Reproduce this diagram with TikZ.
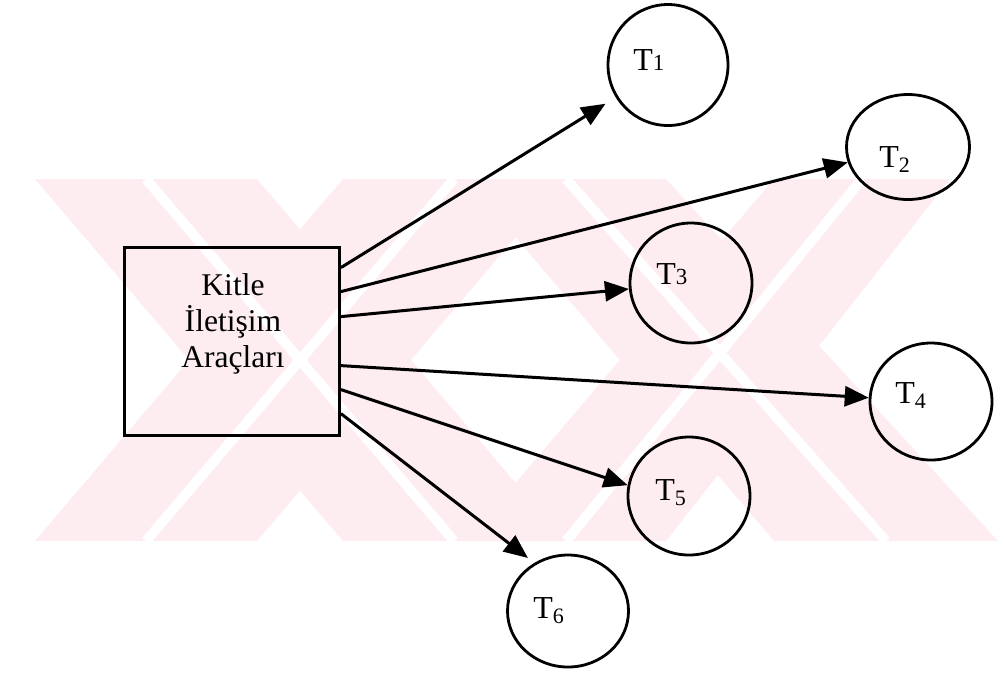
\documentclass[tikz,border=0pt]{standalone}
\usepackage{fontspec}
\setmainfont{Liberation Serif}
\usetikzlibrary{arrows.meta,shapes.geometric,calc}
\definecolor{wmpink}{RGB}{253,236,240}
% digit set on the baseline, and digit set slightly lowered
\newcommand{\tnum}[1]{{\fontsize{11.5}{11.5}\selectfont #1}}
\newcommand{\tsub}[1]{\raisebox{-0.35ex}{\fontsize{11}{11}\selectfont #1}}
\begin{document}
\begin{tikzpicture}[x=0.5pt,y=-0.5pt,
  target/.style={draw, ellipse, line width=1.4pt, inner sep=0pt},
  mediabox/.style={draw, rectangle, line width=1.4pt, inner sep=0pt,
    minimum width=107.5pt, minimum height=94pt},
  link/.style={line width=1.5pt, -{Triangle[length=12pt,width=10pt]}},
  tlabel/.style={anchor=base west, inner sep=0pt, font=\fontsize{16}{16}\selectfont},
  band/.style={fill=wmpink},
  gap/.style={draw=white, line width=5pt},
]
\useasboundingbox (0,0) rectangle (1004,677);

% pale background emblem: two crossed pairs of diagonal bands
\begin{scope}
  \clip (0,179) rectangle (1004,541);
  \fill[band] (35,179) -- (257,179) -- (565,541) -- (343,541) -- cycle;
  \fill[band] (343,179) -- (565,179) -- (257,541) -- (35,541) -- cycle;
  \fill[band] (466,179) -- (666,179) -- (998,541) -- (774,541) -- cycle;
  \fill[band] (774,179) -- (950,179) -- (666,541) -- (466,541) -- cycle;
  \draw[gap] (146,179) -- (454,541);
  \draw[gap] (454,179) -- (146,541);
  \draw[gap] (566,179) -- (886,541);
  \draw[gap] (862,179) -- (566,541);
\end{scope}

% source box
\node[mediabox] (media) at (232,341.5) {};
\node[align=center, anchor=base, inner sep=0pt,
      font=\fontsize{15.8}{18}\selectfont] (mediatext) at (233,367)
      {Kitle\\İletişim\\Araçları};

% target circles
\node[target, minimum width=60pt,   minimum height=60.5pt] (t1) at (668,65) {};
\node[target, minimum width=61.5pt, minimum height=52.5pt] (t2) at (908,147) {};
\node[target, minimum width=61pt,   minimum height=60pt]   (t3) at (691,283) {};
\node[target, minimum width=61pt,   minimum height=58.5pt] (t4) at (931,401.5) {};
\node[target, minimum width=61pt,   minimum height=59pt]   (t5) at (689,496) {};
\node[target, minimum width=60.5pt, minimum height=56pt]   (t6) at (568,611) {};

\node[tlabel] (l1) at (633,70)  {T\tnum{1}};
\node[tlabel] (l2) at (879,167) {T\tsub{2}};
\node[tlabel] (l3) at (656,284) {T\tnum{3}};
\node[tlabel] (l4) at (895,403) {T\tsub{4}};
\node[tlabel] (l5) at (655,500) {T\tsub{5}};
\node[tlabel] (l6) at (533,618) {T\tsub{6}};

% arrow start points on the right side of the box
\coordinate (s1) at ($(media.north east)+(0,21.5)$);
\coordinate (s2) at ($(media.north east)+(0,45.5)$);
\coordinate (s3) at ($(media.north east)+(0,70.5)$);
\coordinate (s4) at ($(media.north east)+(0,119.5)$);
\coordinate (s5) at ($(media.north east)+(0,143.5)$);
\coordinate (s6) at ($(media.north east)+(0,167.5)$);

\draw[link, shorten >=6pt] (s1) -- (t1);
\draw[link] (s2) -- (t2);
\draw[link] (s3) -- (t3);
\draw[link] (s4) -- (t4);
\draw[link] (s5) -- (t5.170);
\draw[link, shorten >=4pt] (s6) -- (t6.125);
\end{tikzpicture}
\end{document}
